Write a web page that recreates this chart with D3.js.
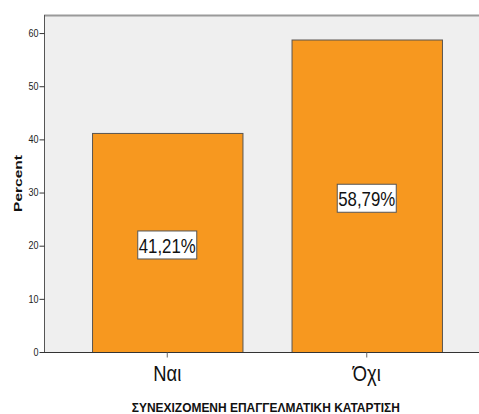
<!DOCTYPE html>
<html><head><meta charset="utf-8">
<script src="https://cdn.jsdelivr.net/npm/d3@7"></script>
<style>body{margin:0;background:#fff}svg{display:block}text{font-family:"Liberation Sans",Arial,sans-serif}</style>
</head><body>
<div id="chart"></div>
<script>
const categories = ["Ναι", "Όχι"];
const values = [41.21, 58.79];
const valueLabels = ["41,21%", "58,79%"];
const yTicks = [0, 10, 20, 30, 40, 50, 60];
const xTitle = "ΣΥΝΕΧΙΖΟΜΕΝΗ ΕΠΑΓΓΕΛΜΑΤΙΚΗ ΚΑΤΑΡΤΙΣΗ";
const yTitle = "Percent";

const W = 479, H = 414;
const plot = {left: 44, right: 479, top: 15, bottom: 352};
const svg = d3.select("#chart").append("svg").attr("width", W).attr("height", H);

const y = d3.scaleLinear().domain([0, 63.4]).range([plot.bottom, plot.top]);
const x = d3.scaleBand().domain(categories).range([67.5, 466.5]).paddingInner(0.246).paddingOuter(0.123);

// plot background
svg.append("rect").attr("x", plot.left).attr("y", plot.top)
  .attr("width", plot.right - plot.left).attr("height", plot.bottom - plot.top)
  .attr("fill", "#efefef");
// top border
svg.append("line").attr("x1", plot.left).attr("x2", plot.right).attr("y1", plot.top + 0.5).attr("y2", plot.top + 0.5)
  .attr("stroke", "#9a9a9a").attr("stroke-width", 2);

// bars
svg.selectAll("rect.bar").data(values).join("rect").attr("class", "bar")
  .attr("x", (d, i) => x(categories[i]) + 0.5)
  .attr("y", d => y(d) + 0.5)
  .attr("width", x.bandwidth())
  .attr("height", d => plot.bottom - y(d))
  .attr("fill", "#f7981f").attr("stroke", "#5a5550").attr("stroke-width", 1);

// y axis
const yAxis = d3.axisLeft(y).tickValues(yTicks).tickSize(5).tickPadding(1).tickFormat(d3.format("d"));
const ga = svg.append("g").attr("transform", `translate(${plot.left + 0.5},0)`).call(yAxis);
ga.select(".domain").attr("stroke", "#555").attr("d", `M0,${plot.top}V${plot.bottom}`);
ga.selectAll(".tick line").attr("stroke", "#333");
ga.selectAll(".tick text").attr("fill", "#222").style("font-size", "10px")
  .attr("textLength", d => d === 0 ? 5 : 10).attr("lengthAdjust", "spacingAndGlyphs");

// x axis
const xAxis = d3.axisBottom(x).tickSize(5).tickSizeOuter(0).tickPadding(4);
const gx = svg.append("g").attr("transform", `translate(0,${plot.bottom + 0.5})`).call(xAxis);
gx.select(".domain").attr("stroke", "#333").attr("d", `M${plot.left - 4},0H${plot.right}`);
gx.selectAll(".tick line").attr("stroke", "#666");
gx.selectAll(".tick text").attr("fill", "#111").style("font-size", "22px")
  .attr("textLength", 28).attr("lengthAdjust", "spacingAndGlyphs").attr("dy", "0.9em");

// value labels
const lab = svg.selectAll("g.lab").data(values).join("g").attr("class", "lab")
  .attr("transform", (d, i) => `translate(${x(categories[i]) + x.bandwidth() / 2},${(y(d) + plot.bottom) / 2 + 2.5})`);
lab.append("rect").attr("x", -29.5).attr("y", -14).attr("width", 59).attr("height", 28)
  .attr("fill", "#fff").attr("stroke", "#555").attr("stroke-width", 1);
lab.append("text").attr("text-anchor", "middle").attr("y", 8).style("font-size", "21px").attr("fill", "#111")
  .attr("textLength", 57).attr("lengthAdjust", "spacingAndGlyphs")
  .text((d, i) => valueLabels[i]);

// axis titles
svg.append("text").attr("x", (131.7 + 400) / 2).attr("y", 411.5).attr("text-anchor", "middle")
  .style("font-size", "13.5px").style("font-weight", "bold").attr("fill", "#111")
  .attr("textLength", 268).attr("lengthAdjust", "spacingAndGlyphs").text(xTitle);
svg.append("text").attr("transform", "translate(22,183.5) rotate(-90)").attr("text-anchor", "middle")
  .style("font-size", "11.5px").style("font-weight", "bold").attr("fill", "#111")
  .attr("textLength", 57).attr("lengthAdjust", "spacingAndGlyphs").text(yTitle);
</script>
</body></html>
